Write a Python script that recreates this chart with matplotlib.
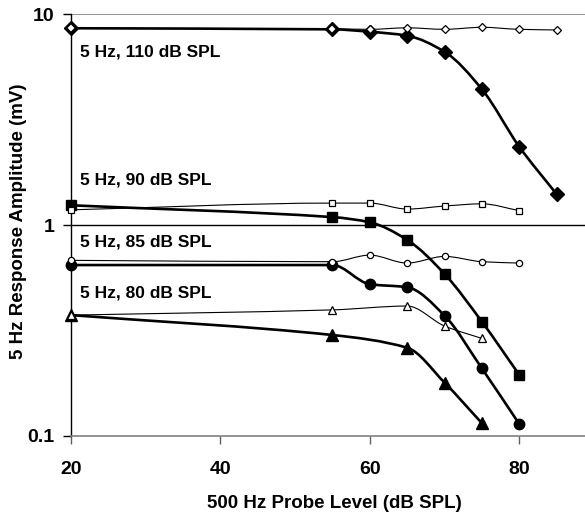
import matplotlib
matplotlib.use("Agg")
from matplotlib import pyplot as plt
from matplotlib.path import Path
from matplotlib.patches import PathPatch
import numpy as np

plt.rcParams['font.family'] = ['Liberation Sans', 'DejaVu Sans']
plt.rcParams['font.weight'] = 'bold'

# probe levels (dB SPL)
x_110 = [20, 55, 60, 65, 70, 75, 80, 85]
x_90 = [20, 55, 60, 65, 70, 75, 80]
x_85 = [20, 55, 60, 65, 70, 75, 80]
x_80 = [20, 55, 65, 70, 75]

# 5 Hz response amplitude (mV), filled = with probe, open = control
y_110 = [8.56, 8.46, 8.24, 7.89, 6.62, 4.40, 2.35, 1.40]
y_110_ctl = [8.56, 8.5, 8.46, 8.6, 8.46, 8.65, 8.46, 8.4]
y_90 = [1.24, 1.09, 1.03, 0.85, 0.586, 0.348, 0.195]
y_90_ctl = [1.18, 1.27, 1.27, 1.19, 1.23, 1.26, 1.17]
y_85 = [0.646, 0.646, 0.524, 0.507, 0.372, 0.209, 0.114]
y_85_ctl = [0.68, 0.67, 0.72, 0.66, 0.71, 0.67, 0.66]
y_80 = [0.374, 0.301, 0.262, 0.179, 0.115]
y_80_ctl = [0.374, 0.396, 0.413, 0.332, 0.290]

labels = ["5 Hz, 110 dB SPL", "5 Hz, 90 dB SPL", "5 Hz, 85 dB SPL", "5 Hz, 80 dB SPL"]
label_y = [6.6, 1.63, 0.834, 0.475]


def smooth_line(ax, x, y, lw):
    # smoothed line: monotone cubic bezier pieces in (x, log y) space
    px = np.array(x, dtype=float)
    py = np.log10(np.array(y, dtype=float))
    n = len(px)
    sec = np.diff(py) / np.diff(px)
    slope = np.zeros(n)
    slope[0] = sec[0]
    slope[-1] = sec[-1]
    for i in range(1, n - 1):
        if sec[i - 1] * sec[i] > 0:
            slope[i] = 2 / (1 / sec[i - 1] + 1 / sec[i])
    verts = [(px[0], py[0])]
    codes = [Path.MOVETO]
    for i in range(n - 1):
        h = px[i + 1] - px[i]
        c1 = (px[i] + h / 3, py[i] + slope[i] * h / 3)
        c2 = (px[i + 1] - h / 3, py[i + 1] - slope[i + 1] * h / 3)
        verts += [c1, c2, (px[i + 1], py[i + 1])]
        codes += [Path.CURVE4] * 3
    verts = [(a, 10 ** b) for a, b in verts]
    ax.add_patch(PathPatch(Path(verts, codes), fill=False, lw=lw, color='black', zorder=3))


fig = plt.figure(figsize=(5.85, 5.15), dpi=100)
ax = fig.add_axes([0.1214, 0.1534, 0.8786, 0.8194])
ax.set_yscale('log')
ax.set_xlim(20, 88.8)
ax.set_ylim(0.1, 10)

ax.axhline(10, color='#808080', lw=1.2, zorder=1)
ax.axhline(1, color='black', lw=1.0, zorder=1)

# control series (thin, open markers)
for x, y, m, s in [(x_110, y_110_ctl, 'D', 4.2), (x_90, y_90_ctl, 's', 4.5),
                   (x_85, y_85_ctl, 'o', 4.5), (x_80, y_80_ctl, '^', 5.5)]:
    smooth_line(ax, x, y, 0.8)
    ax.plot(x, y, linestyle='none', marker=m, ms=s, mfc='white', mec='black', mew=0.9,
            zorder=5, clip_on=False)

# probe series (thick, filled markers)
for x, y, m, s in [(x_110, y_110, 'D', 7.5), (x_90, y_90, 's', 7.5),
                   (x_85, y_85, 'o', 7.5), (x_80, y_80, '^', 8.5)]:
    smooth_line(ax, x, y, 1.9)
    ax.plot(x, y, linestyle='none', marker=m, ms=s, color='black', zorder=4, clip_on=False)

# open diamonds sit on top of the first filled ones
ax.plot(x_110[:2], y_110_ctl[:2], linestyle='none', marker='D', ms=5, mfc='white',
        mec='black', mew=1.6, zorder=6, clip_on=False)

for t, yy in zip(labels, label_y):
    ax.text(21.2, yy, t, fontsize=12.5, fontweight='bold', va='center', ha='left')

ax.set_xticks([20, 40, 60, 80])
ax.set_yticks([0.1, 1, 10])
ax.set_yticklabels(['0.1', '1', '10'])
ax.yaxis.set_minor_locator(matplotlib.ticker.NullLocator())
ax.tick_params(axis='both', labelsize=14, length=6, width=1)
ax.tick_params(axis='x', colors='#606060', labelcolor='black', pad=12)
ax.tick_params(axis='y', pad=6)

ax.spines['top'].set_visible(False)
ax.spines['right'].set_visible(False)
ax.spines['bottom'].set_color('#808080')
ax.spines['bottom'].set_linewidth(1.2)
ax.spines['left'].set_linewidth(1.0)

fig.text(0.571, 0.023, '500 Hz Probe Level (dB SPL)', fontsize=13.5, fontweight='bold',
         ha='center', va='center')
fig.text(0.031, 0.571, '5 Hz Response Amplitude (mV)', fontsize=13.5, fontweight='bold',
         ha='center', va='center', rotation=90)

fig.savefig('out.png', dpi=100)
